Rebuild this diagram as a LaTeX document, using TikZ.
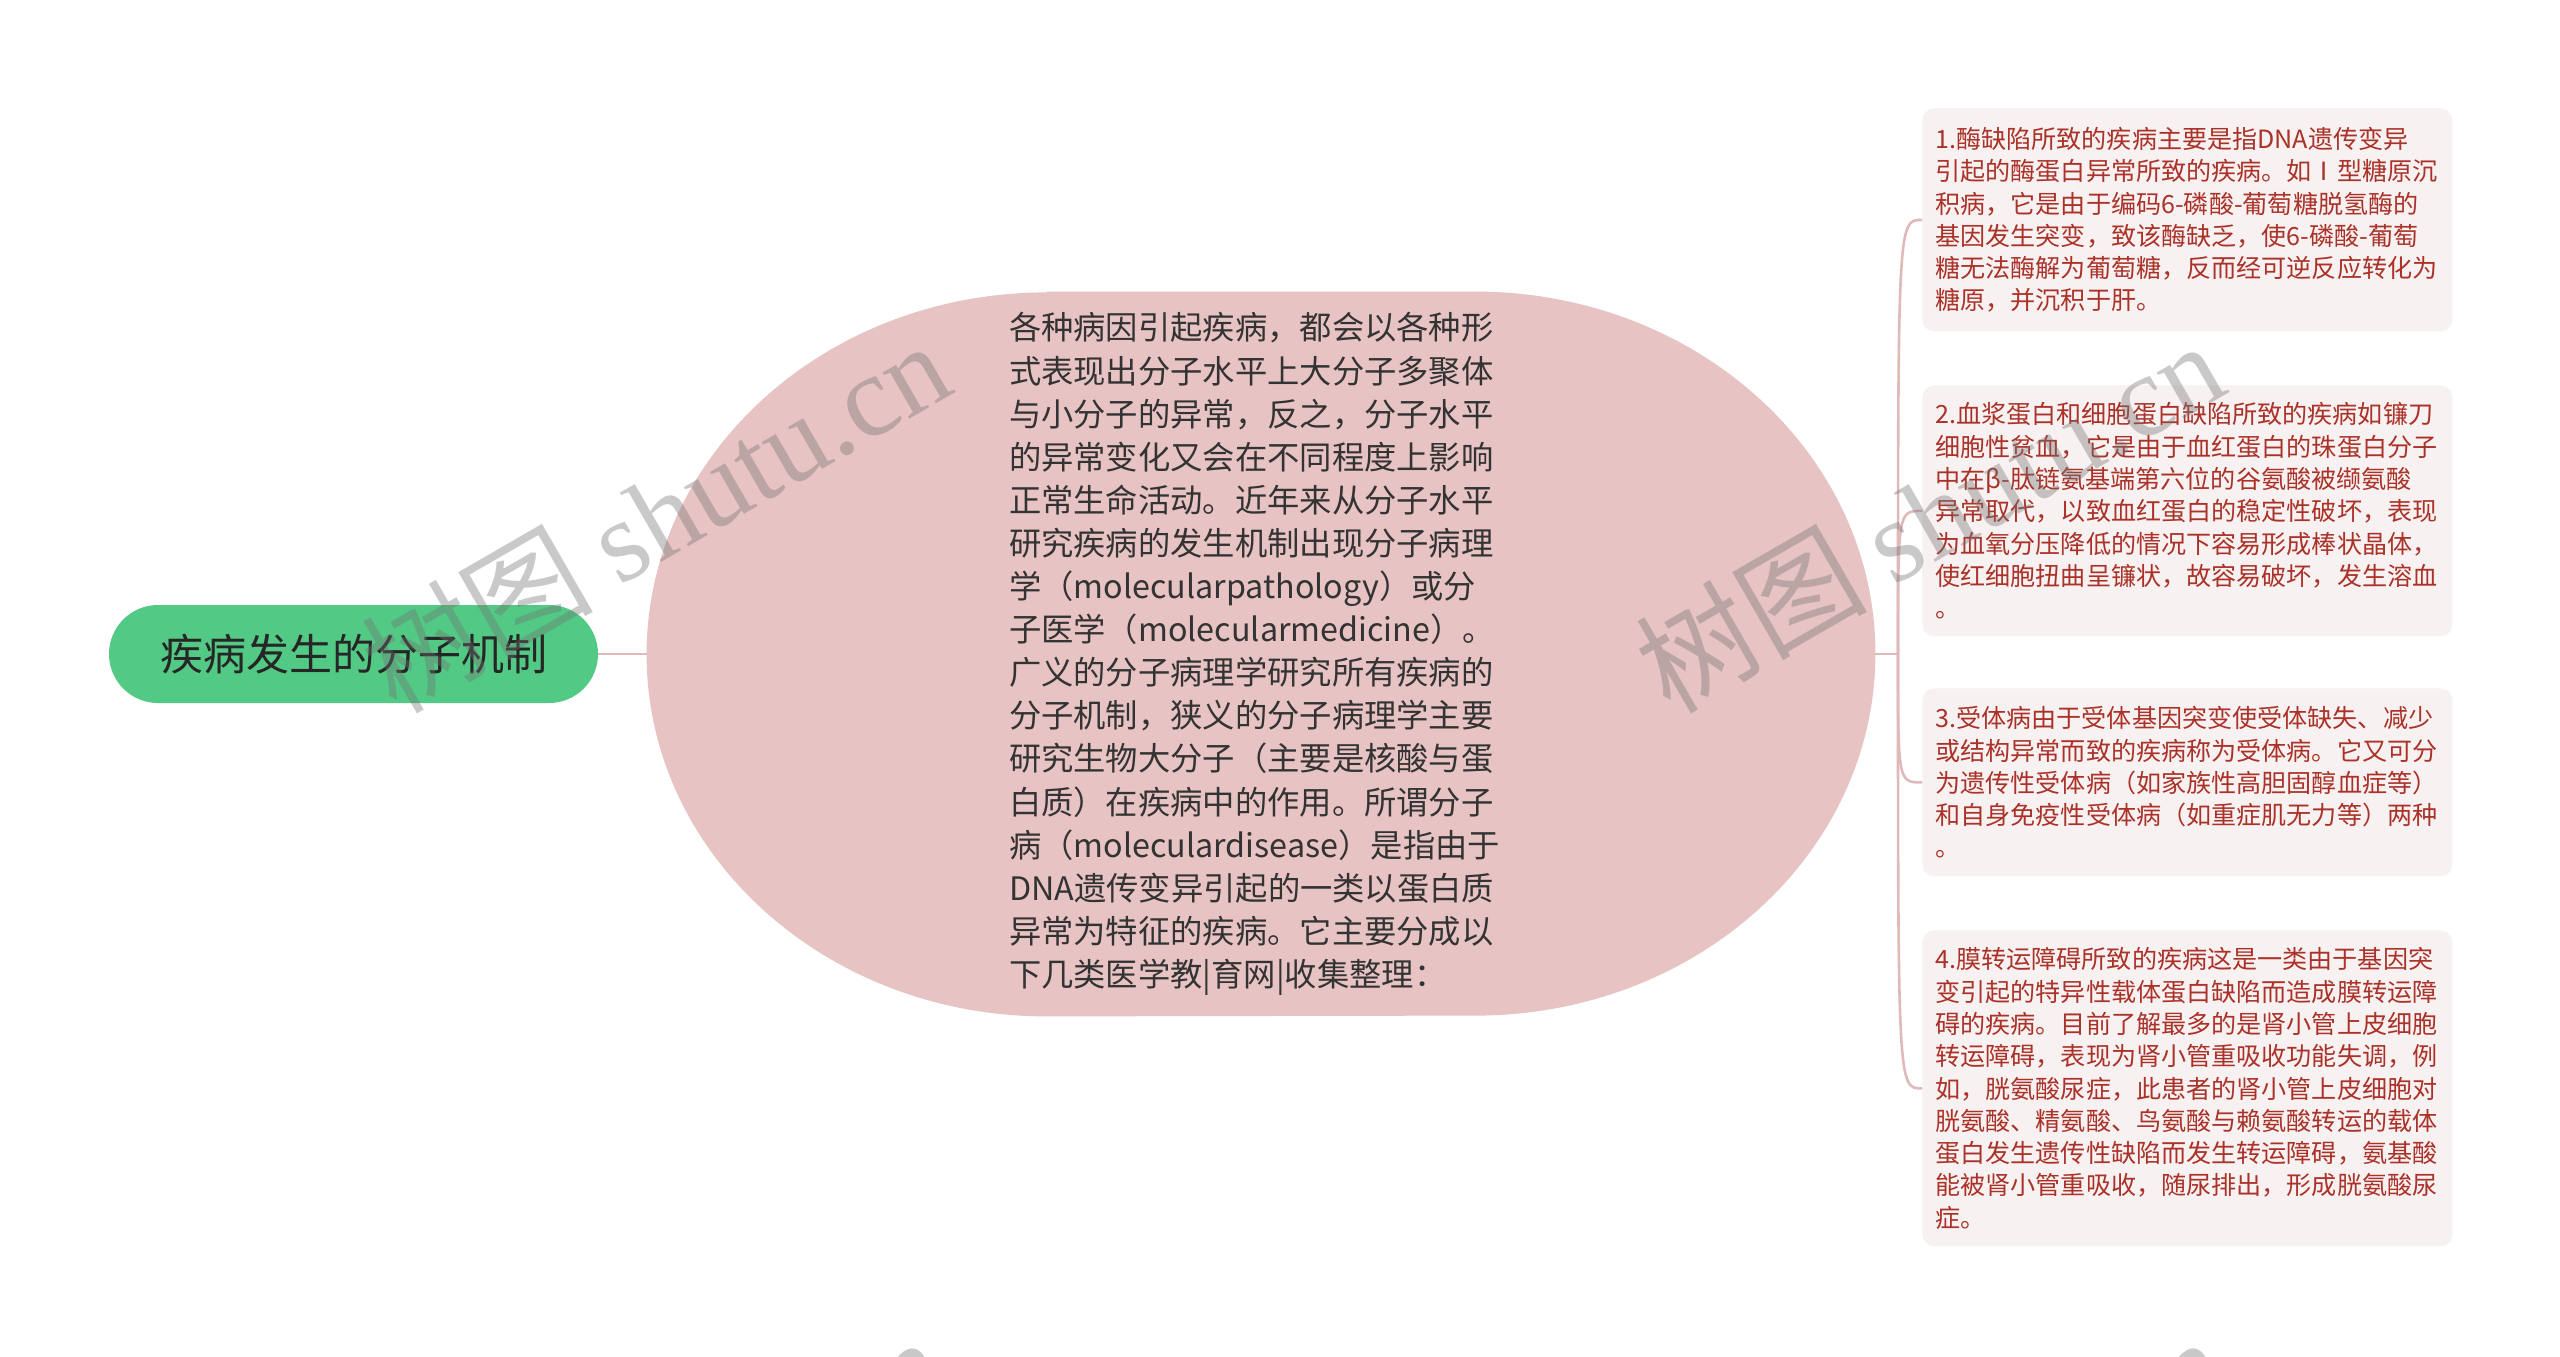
\documentclass[tikz,border=0pt]{standalone}
\usepackage{fontspec}
\setmainfont{Noto Sans CJK SC}
\newfontfamily\wmlatin{Liberation Serif}
\newfontfamily\cjk{Noto Sans CJK SC}
\usetikzlibrary{backgrounds}
\definecolor{rootfill}{RGB}{82,201,132}
\definecolor{roottext}{RGB}{38,38,38}
\definecolor{midfill}{RGB}{231,195,195}
\definecolor{midtext}{RGB}{51,51,51}
\definecolor{leaffill}{RGB}{248,241,241}
\definecolor{leaftext}{RGB}{170,50,40}
\definecolor{linkcol}{RGB}{224,186,186}
\begin{document}
\begin{tikzpicture}[x=0.5pt,y=0.5pt,
  rootbox/.style={rectangle, rounded corners=24.5pt, fill=rootfill, text=roottext,
    minimum width=244.5pt, minimum height=49pt, inner sep=0pt,
    font=\fontsize{21.5pt}{26pt}\selectfont},
  midbox/.style={rectangle, minimum width=614pt, minimum height=362pt, inner sep=0pt,
    text width=252pt, align=left, text=midtext,
    font=\fontsize{16.15pt}{21.55pt}\selectfont},
  leafbox/.style={rectangle, rounded corners=6pt, fill=leaffill, text=leaftext,
    text width=252pt, inner xsep=6.5pt, inner ysep=0pt, align=left, anchor=north west,
    font=\fontsize{12.55pt}{16.15pt}\selectfont},
  link/.style={draw=linkcol, line width=1.3pt},
  wmark/.style={rotate=30, text=black!55, text opacity=0.38, inner sep=0pt,
    font=\fontsize{58pt}{62pt}\selectfont}
]
\useasboundingbox (0,0) rectangle (2560,-1356);

\node[rootbox] (root) at (353.5,-654) {疾病发生的分子机制};

\node[midbox] (mid) at (1261,-654) {各种病因引起疾病，都会以各种形\\
式表现出分子水平上大分子多聚体\\
与小分子的异常，反之，分子水平\\
的异常变化又会在不同程度上影响\\
正常生命活动。近年来从分子水平\\
研究疾病的发生机制出现分子病理\\
学（molecularpathology）或分\\
子医学（molecularmedicine）。\\
广义的分子病理学研究所有疾病的\\
分子机制，狭义的分子病理学主要\\
研究生物大分子（主要是核酸与蛋\\
白质）在疾病中的作用。所谓分子\\
病（moleculardisease）是指由于\\
DNA遗传变异引起的一类以蛋白质\\
异常为特征的疾病。它主要分成以\\
下几类医学教|育网|收集整理：};

\node[leafbox, minimum height=111.5pt] (b1) at (1922,-108) {1.酶缺陷所致的疾病主要是指DNA遗传变异\\
引起的酶蛋白异常所致的疾病。如Ⅰ型糖原沉\\
积病，它是由于编码6-磷酸-葡萄糖脱氢酶的\\
基因发生突变，致该酶缺乏，使6-磷酸-葡萄\\
糖无法酶解为葡萄糖，反而经可逆反应转化为\\
糖原，并沉积于肝。};

\node[leafbox, minimum height=125.5pt] (b2) at (1922,-385) {2.血浆蛋白和细胞蛋白缺陷所致的疾病如镰刀\\
细胞性贫血，它是由于血红蛋白的珠蛋白分子\\
中在β-肽链氨基端第六位的谷氨酸被缬氨酸\\
异常取代，以致血红蛋白的稳定性破坏，表现\\
为血氧分压降低的情况下容易形成棒状晶体，\\
使红细胞扭曲呈镰状，故容易破坏，发生溶血\\
。};

\node[leafbox, minimum height=94pt] (b3) at (1922,-688) {3.受体病由于受体基因突变使受体缺失、减少\\
或结构异常而致的疾病称为受体病。它又可分\\
为遗传性受体病（如家族性高胆固醇血症等）\\
和自身免疫性受体病（如重症肌无力等）两种\\
。};

\node[leafbox, minimum height=158pt] (b4) at (1922,-930) {4.膜转运障碍所致的疾病这是一类由于基因突\\
变引起的特异性载体蛋白缺陷而造成膜转运障\\
碍的疾病。目前了解最多的是肾小管上皮细胞\\
转运障碍，表现为肾小管重吸收功能失调，例\\
如，胱氨酸尿症，此患者的肾小管上皮细胞对\\
胱氨酸、精氨酸、鸟氨酸与赖氨酸转运的载体\\
蛋白发生遗传性缺陷而发生转运障碍，氨基酸\\
能被肾小管重吸收，随尿排出，形成胱氨酸尿\\
症。};

\coordinate (jn) at (1898,-654);

\begin{scope}[on background layer]
  \fill[white] (0,0) rectangle (2560,-1356);
  \fill[midfill] ([xshift=200pt]mid.north west) -- ([xshift=-200pt]mid.north east)
    arc[start angle=90, end angle=-90, x radius=200pt, y radius=181pt]
    -- ([xshift=200pt]mid.south west)
    arc[start angle=270, end angle=90, x radius=200pt, y radius=181pt] -- cycle;
\end{scope}

\draw[link] (root.east) -- (mid.west);
\draw[link] (mid.east) -- (jn);
\foreach \b in {b1,b2,b3,b4}
  \draw[link] (jn) .. controls (jn |- \b.west) .. (\b.west);

\begin{scope}
  \clip (0,0) rectangle (2560,-1356);
  \node[wmark] (wm1) at (655,-515) {{\cjk 树图} {\wmlatin shutu.cn}};
  \node[wmark] (wm2) at (1929,-515) {{\cjk 树图} {\wmlatin shutu.cn}};
  \node[wmark] (wm3) at (649,-1511) {{\cjk 树图} {\wmlatin shutu.cn}};
  \node[wmark] (wm4) at (1930,-1511) {{\cjk 树图} {\wmlatin shutu.cn}};
\end{scope}
\end{tikzpicture}
\end{document}
